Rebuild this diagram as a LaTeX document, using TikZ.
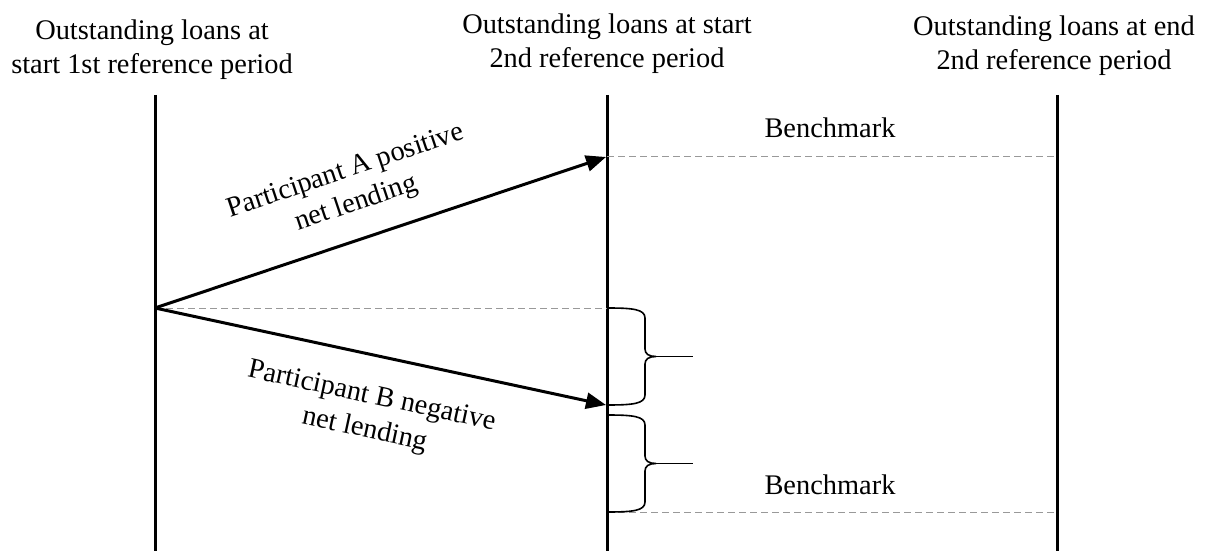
\documentclass[tikz,border=0pt]{standalone}
\usepackage{fontspec}
\setmainfont{Liberation Serif}
\usetikzlibrary{positioning, arrows.meta}

\tikzset{
  timeline/.style={line width=1.5pt},
  flow/.style={-{Triangle[length=10pt, width=8pt]}, line width=1.5pt},
  benchline/.style={draw=gray!80, line width=0.5pt, dash pattern=on 3.5pt off 2pt},
  loanlabel/.style={font=\fontsize{14.2}{17}\selectfont, align=center, inner sep=0pt},
  gapbrace/.pic={
    \draw[line width=0.8pt] (0,0) .. controls (25,0) and (38,1) .. (38,10) -- (38,41)
      .. controls (38,46) and (42,48.5) .. (49,48.5)
      .. controls (42,48.5) and (38,51) .. (38,56) -- (38,87)
      .. controls (38,96) and (25,97) .. (0,97);
    \draw[line width=0.8pt] (49,48.5) -- (86,48.5);
  }
}

\begin{document}
\begin{tikzpicture}[x=0.5pt, y=-0.5pt] % pixel grid of the reference, y pointing down
  \useasboundingbox (0,0) rectangle (1206,551);

  % 1. Define Nodes
  % Headers above the three time lines
  \node[loanlabel] (hdrFirst) at (152,50) {Outstanding loans at\\start 1st reference period};
  \node[loanlabel] (hdrStart) at (607,44) {Outstanding loans at start\\2nd reference period};
  \node[loanlabel] (hdrEnd) at (1054,46) {Outstanding loans at end\\2nd reference period};

  % Ends of the time lines
  \coordinate (firstTop) at (155,95);  \coordinate (firstBot) at (155,551);
  \coordinate (startTop) at (607,95);  \coordinate (startBot) at (607,551);
  \coordinate (endTop)   at (1057,95); \coordinate (endBot)   at (1057,551);

  % Loan levels
  \coordinate (level0) at (155,308);
  \coordinate (levelA) at (606,157);
  \coordinate (levelB) at (606,405);
  \coordinate (midLevel) at (607,308);
  \coordinate (benchTopL) at (607,157); \coordinate (benchTopR) at (1057,157);
  \coordinate (benchBotL) at (607,512); \coordinate (benchBotR) at (1057,512);

  \node[loanlabel, anchor=base] (benchTop) at (830,138) {Benchmark};
  \node[loanlabel, anchor=base] (benchBot) at (830,494) {Benchmark};

  % 2. Draw Lines
  \draw[timeline] (firstTop) -- (firstBot);
  \draw[timeline] (startTop) -- (startBot);
  \draw[timeline] (endTop) -- (endBot);

  \draw[benchline] (benchTopL) -- (benchTopR);
  \draw[benchline] (level0) -- (midLevel);
  \draw[benchline] (benchBotL) -- (benchBotR);

  % 3. Draw Arrows
  \draw[flow] (level0) -- (levelA);
  \draw[flow] (level0) -- (levelB);
  \node[loanlabel, rotate=18.5] (lendA) at (351,188) {Participant A positive\\net lending};
  \node[loanlabel, rotate=-12.2] (lendB) at (368,414) {Participant B negative\\net lending};

  % Braces on the gaps
  \pic at (607,308) {gapbrace};
  \pic at (607,415) {gapbrace};

\end{tikzpicture}
\end{document}
